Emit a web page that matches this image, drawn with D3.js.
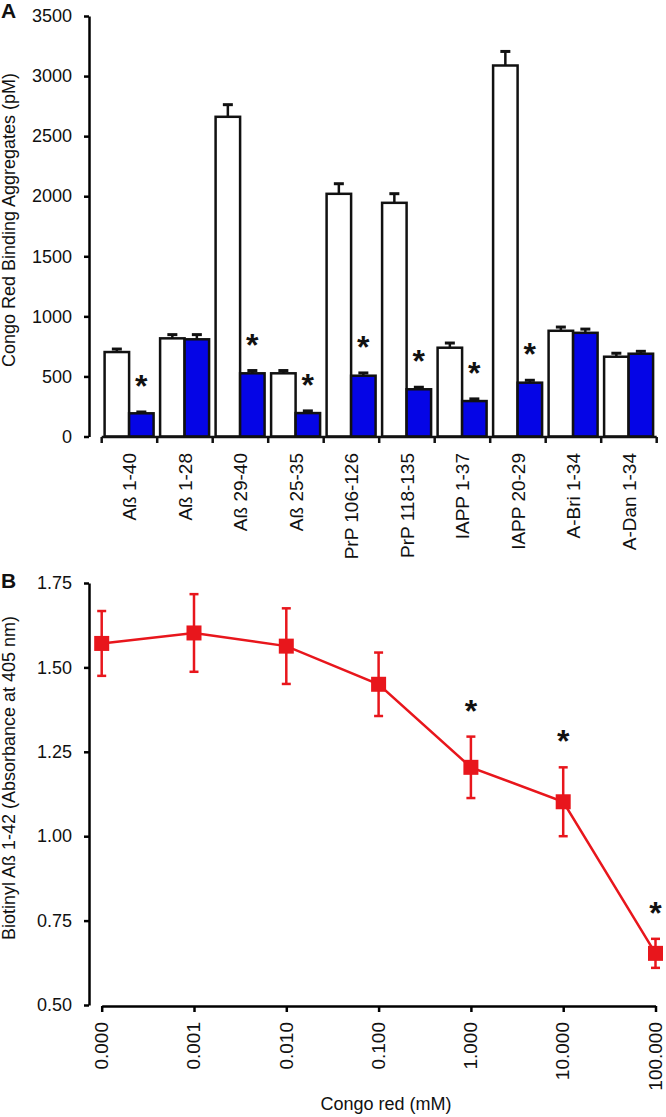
<!DOCTYPE html>
<html>
<head>
<meta charset="utf-8">
<script src="https://cdn.jsdelivr.net/npm/d3@7"></script>
<style>
  html, body { margin: 0; padding: 0; background: #fff; }
  svg { display: block; }
  svg text { font-family: "Liberation Sans", Arial, Helvetica, sans-serif; }
</style>
</head>
<body>
<svg id="chart" width="666" height="1117"></svg>
<script>
// ---------- Panel A data ----------
const categories = ["Aß 1-40", "Aß 1-28", "Aß 29-40", "Aß 25-35", "PrP 106-126", "PrP 118-135", "IAPP 1-37", "IAPP 20-29", "A-Bri 1-34", "A-Dan 1-34"];
const untreated = [703, 817, 2661, 526, 2020, 1945, 739, 3088, 880, 664];
const untreatedErr = [25, 31, 101, 23, 84, 76, 39, 117, 31, 29];
const treated = [193, 809, 526, 195, 506, 393, 295, 448, 863, 689];
const treatedErr = [11, 39, 23, 18, 23, 17, 18, 20, 31, 20];
const treatedSig = [true, false, true, true, true, true, true, true, false, false];
const yTicksA = [0, 500, 1000, 1500, 2000, 2500, 3000, 3500];

// ---------- Panel B data ----------
const concentrations = ["0.000", "0.001", "0.010", "0.100", "1.000", "10.000", "100.000"];
const absorbance = [1.571, 1.602, 1.563, 1.450, 1.204, 1.102, 0.653];
const absorbanceErr = [0.096, 0.115, 0.112, 0.094, 0.091, 0.102, 0.043];
const absorbanceSig = [false, false, false, false, true, true, true];
const yTicksB = [0.50, 0.75, 1.00, 1.25, 1.50, 1.75];

const svg = d3.select("#chart");
const FONT = '"Liberation Sans", Arial, Helvetica, sans-serif';
const BLUE = "#0505e6";
const RED = "#e8161c";
const AX = 2.5;

// ================= Panel A =================
const yA = d3.scaleLinear().domain([0, 3500]).range([436.5, 16]);
const xA = d3.scaleBand().domain(categories).range([101.7, 656.7]).padding(0);
const sub = d3.scaleBand().domain(["untreated", "treated"]).range([2.9, 51.9]).padding(0);

const gA = svg.append("g");

// y axis
const yAxisA = gA.append("g").attr("transform", "translate(89,0)")
  .call(d3.axisLeft(yA).tickValues(yTicksA).tickSize(5).tickSizeOuter(0).tickPadding(12).tickFormat(d3.format("d")))
  .attr("font-family", null);
yAxisA.select(".domain").attr("stroke", "#000").attr("stroke-width", AX);
yAxisA.selectAll(".tick line").attr("stroke", "#000").attr("stroke-width", AX);
yAxisA.selectAll(".tick text").attr("font-size", 18).attr("fill", "#111").style("font-family", FONT);

// bars
const groups = gA.selectAll("g.grp").data(categories).join("g").attr("class", "grp")
  .attr("transform", d => `translate(${xA(d)},0)`);

groups.append("rect")
  .attr("x", sub("untreated")).attr("width", sub.bandwidth())
  .attr("y", (d, i) => yA(untreated[i])).attr("height", (d, i) => yA(0) - yA(untreated[i]))
  .attr("fill", "#fff").attr("stroke", "#111").attr("stroke-width", 2.5);
groups.append("rect")
  .attr("x", sub("treated")).attr("width", sub.bandwidth())
  .attr("y", (d, i) => yA(treated[i])).attr("height", (d, i) => yA(0) - yA(treated[i]))
  .attr("fill", BLUE).attr("stroke", "#111").attr("stroke-width", 2.5);

// error bars (upper only)
function errA(key, vals, errs) {
  const cx = sub(key) + sub.bandwidth() / 2;
  groups.append("line").attr("x1", cx).attr("x2", cx)
    .attr("y1", (d, i) => yA(vals[i])).attr("y2", (d, i) => yA(vals[i] + errs[i]))
    .attr("stroke", "#111").attr("stroke-width", 2.5);
  groups.append("line").attr("x1", cx - 5).attr("x2", cx + 5)
    .attr("y1", (d, i) => yA(vals[i] + errs[i])).attr("y2", (d, i) => yA(vals[i] + errs[i]))
    .attr("stroke", "#111").attr("stroke-width", 3);
}
errA("untreated", untreated, untreatedErr);
errA("treated", treated, treatedErr);

// asterisks
groups.filter((d, i) => treatedSig[i]).append("text")
  .attr("x", sub("treated") + sub.bandwidth() / 2)
  .attr("y", d => { const i = categories.indexOf(d); return yA(treated[i] + treatedErr[i]) - 15; })
  .attr("text-anchor", "middle").attr("font-size", 32).attr("font-weight", "bold").attr("fill", "#111")
  .text("*");

// x axis A
const xAxisA = gA.append("g").attr("transform", "translate(0,437)");
xAxisA.append("line").attr("x1", xA.range()[0]).attr("x2", xA.range()[1]).attr("y1", 0).attr("y2", 0)
  .attr("stroke", "#111").attr("stroke-width", AX);
const bounds = [xA.range()[0]].concat(categories.map(c => xA(c) + xA.bandwidth()));
xAxisA.selectAll("line.bt").data(bounds).join("line").attr("class", "bt")
  .attr("x1", d => d).attr("x2", d => d).attr("y1", 0).attr("y2", 6)
  .attr("stroke", "#111").attr("stroke-width", AX);
xAxisA.selectAll("text.cl").data(categories).join("text").attr("class", "cl")
  .attr("transform", d => `translate(${xA(d) + xA.bandwidth() / 2},0) rotate(-90)`)
  .attr("x", -16).attr("y", 0).attr("dy", "0.35em")
  .attr("text-anchor", "end").attr("font-size", 19).attr("fill", "#111")
  .text(d => d);

// y title A
gA.append("text").attr("transform", "translate(14.5,220) rotate(-90)")
  .attr("text-anchor", "middle").attr("font-size", 18).attr("fill", "#111")
  .text("Congo Red Binding Aggregates (pM)");
gA.append("text").attr("x", 1).attr("y", 18).attr("font-size", 21).attr("font-weight", "bold").attr("fill", "#111").text("A");

// ================= Panel B =================
const yB = d3.scaleLinear().domain([0.5, 1.75]).range([1005, 583]);
const xB = d3.scalePoint().domain(concentrations).range([101.7, 655.5]).padding(0);
const gB = svg.append("g");

const yAxisB = gB.append("g").attr("transform", "translate(89,0)")
  .call(d3.axisLeft(yB).tickValues(yTicksB).tickSize(5).tickSizeOuter(0).tickPadding(12).tickFormat(d3.format(".2f")))
  .attr("font-family", null);
yAxisB.select(".domain").attr("stroke", "#000").attr("stroke-width", AX);
yAxisB.selectAll(".tick line").attr("stroke", "#000").attr("stroke-width", AX);
yAxisB.selectAll(".tick text").attr("font-size", 18).attr("fill", "#111").style("font-family", FONT);

const xAxisB = gB.append("g").attr("transform", "translate(0,1006)")
  .call(d3.axisBottom(xB).tickSize(6).tickSizeOuter(0))
  .attr("font-family", null);
xAxisB.select(".domain").attr("stroke", "#000").attr("stroke-width", AX);
xAxisB.selectAll(".tick line").attr("stroke", "#000").attr("stroke-width", AX);
xAxisB.selectAll(".tick text")
  .attr("transform", "rotate(-90)").attr("x", -16).attr("y", 0).attr("dy", "0.3em")
  .attr("text-anchor", "end").attr("font-size", 19).attr("fill", "#111")
  .style("font-family", FONT);

const pts = concentrations.map((c, i) => ({ c, v: absorbance[i], e: absorbanceErr[i], s: absorbanceSig[i] }));

gB.append("path").datum(pts)
  .attr("d", d3.line().x(d => xB(d.c)).y(d => yB(d.v)))
  .attr("fill", "none").attr("stroke", RED).attr("stroke-width", 2.5);

const eb = gB.selectAll("g.eb").data(pts).join("g").attr("class", "eb");
eb.append("line").attr("x1", d => xB(d.c)).attr("x2", d => xB(d.c))
  .attr("y1", d => yB(d.v - d.e)).attr("y2", d => yB(d.v + d.e))
  .attr("stroke", RED).attr("stroke-width", 2.5);
eb.append("line").attr("x1", d => xB(d.c) - 4.5).attr("x2", d => xB(d.c) + 4.5)
  .attr("y1", d => yB(d.v + d.e)).attr("y2", d => yB(d.v + d.e))
  .attr("stroke", RED).attr("stroke-width", 2.5);
eb.append("line").attr("x1", d => xB(d.c) - 4.5).attr("x2", d => xB(d.c) + 4.5)
  .attr("y1", d => yB(d.v - d.e)).attr("y2", d => yB(d.v - d.e))
  .attr("stroke", RED).attr("stroke-width", 2.5);
eb.append("rect").attr("x", d => xB(d.c) - 7.5).attr("y", d => yB(d.v) - 7.5)
  .attr("width", 15).attr("height", 15).attr("fill", RED);

gB.selectAll("text.sig").data(pts.filter(d => d.s)).join("text").attr("class", "sig")
  .attr("x", d => xB(d.c)).attr("y", d => yB(d.v + d.e) - 15)
  .attr("text-anchor", "middle").attr("font-size", 32).attr("font-weight", "bold").attr("fill", "#111")
  .text("*");

gB.append("text").attr("transform", "translate(14.5,778) rotate(-90)")
  .attr("text-anchor", "middle").attr("font-size", 18).attr("fill", "#111")
  .text("Biotinyl Aß 1-42 (Absorbance at 405 nm)");
gB.append("text").attr("x", 386).attr("y", 1110).attr("text-anchor", "middle")
  .attr("font-size", 18).attr("fill", "#111").text("Congo red (mM)");
gB.append("text").attr("x", 1).attr("y", 588).attr("font-size", 21).attr("font-weight", "bold").attr("fill", "#111").text("B");
</script>
</body>
</html>
